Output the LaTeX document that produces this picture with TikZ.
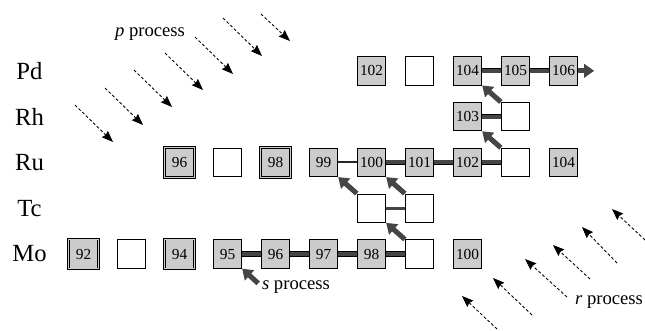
\documentclass[tikz,border=0pt]{standalone}
\usepackage{fontspec}
\setmainfont{Liberation Serif}
\usetikzlibrary{positioning, arrows.meta}
\definecolor{boxgray}{gray}{0.8}
\definecolor{bargray}{gray}{0.27}
\tikzset{
    nuc/.style={
        draw,
        fill=boxgray,
        minimum size=21.4pt,
        inner sep=0pt,
        line width=0.6pt,
        font=\fontsize{11.5}{13}\selectfont,
    },
    gap/.style={nuc, fill=white},
    pnuc/.style={nuc, minimum size=22.3pt, line width=0.55pt, double=boxgray, double distance=0.8pt},
    elem/.style={font=\fontsize{18.5}{21}\selectfont},
    proc/.style={font=\fontsize{14}{16}\selectfont},
    ncap/.style={draw=black, line width=0.5pt, double=bargray, double distance=3pt},
    thinlink/.style={draw=black!85, line width=1.4pt},
    tclink/.style={draw=bargray, line width=2.3pt},
    decay/.style={draw=bargray, line width=3.8pt, -{Triangle[length=7.5pt,width=10pt]}},
    flux/.style={draw=black, line width=0.65pt, dash pattern=on 2.2pt off 1.6pt,
        -{Stealth[length=8.5pt,width=6.5pt,inset=1pt]}},
}

\begin{document}
\begin{tikzpicture}[x=0.75pt, y=-0.75pt, node distance=34.35pt and 36pt, on grid]
        \useasboundingbox (0,0) rectangle (645,330);
        % Mo row
        \node[pnuc] (mo92) at (83.5,254) {92};
        \node[gap, right=of mo92] (mo93) {};
        \node[pnuc, right=of mo93] (mo94) {94};
        \node[nuc, right=of mo94] (mo95) {95};
        \node[nuc, right=of mo95] (mo96) {96};
        \node[nuc, right=of mo96] (mo97) {97};
        \node[nuc, right=of mo97] (mo98) {98};
        \node[gap, right=of mo98] (mo99) {};
        \node[nuc, right=of mo99] (mo100) {100};
        % Tc row
        \node[gap, above=of mo98] (tc99) {};
        \node[gap, right=of tc99] (tc100) {};
        % Ru row
        \node[nuc, above=of tc99] (ru100) {100};
        \node[nuc, left=of ru100] (ru99) {99};
        \node[pnuc, left=of ru99] (ru98) {98};
        \node[gap, left=of ru98] (ru97) {};
        \node[pnuc, left=of ru97] (ru96) {96};
        \node[nuc, right=of ru100] (ru101) {101};
        \node[nuc, right=of ru101] (ru102) {102};
        \node[gap, right=of ru102] (ru103) {};
        \node[nuc, right=of ru103] (ru104) {104};
        % Rh row
        \node[nuc, above=of ru102] (rh103) {103};
        \node[gap, right=of rh103] (rh104) {};
        % Pd row
        \node[nuc, above=of rh103] (pd104) {104};
        \node[gap, left=of pd104] (pd103) {};
        \node[nuc, left=of pd103] (pd102) {102};
        \node[nuc, right=of pd104] (pd105) {105};
        \node[nuc, right=of pd105] (pd106) {106};
        \coordinate[right=12pt of pd106.east] (pdout);
        % element names
        \node[elem, left=40.5pt of mo92] (elmo) {Mo};
        \node[elem, above=of elmo] (eltc) {Tc};
        \node[elem, above=of eltc] (elru) {Ru};
        \node[elem, above=of elru] (elrh) {Rh};
        \node[elem, above=of elrh] (elpd) {Pd};
        % s path
        \draw[ncap] (mo95.east) to (mo96.west);
        \draw[ncap] (mo96.east) to (mo97.west);
        \draw[ncap] (mo97.east) to (mo98.west);
        \draw[ncap] (mo98.east) to (mo99.west);
        \draw[tclink] (tc99.east) to (tc100.west);
        \draw[thinlink] (ru99.east) to (ru100.west);
        \draw[ncap] (ru100.east) to (ru101.west);
        \draw[ncap] (ru101.east) to (ru102.west);
        \draw[ncap] (ru102.east) to (ru103.west);
        \draw[ncap] (rh103.east) to (rh104.west);
        \draw[ncap] (pd104.east) to (pd105.west);
        \draw[ncap] (pd105.east) to (pd106.west);
        \draw[decay, line width=3.6pt] (pd106.east) to (pdout);
        \draw[decay] (mo99.north west) to (tc99.south east);
        \draw[decay] (tc99.north west) to (ru99.south east);
        \draw[decay] (tc100.north west) to (ru100.south east);
        \draw[decay] (ru103.north west) to (rh103.south east);
        \draw[decay] (rh104.north west) to (pd104.south east);
        \coordinate (sin) at ([shift={(12pt,-11pt)}]mo95.south east);
        \draw[decay] (sin) to (mo95.south east);
        % process labels
        \node[proc] (slab) at (296,287) {\textit{s} process};
        \node[proc] (plab) at (150,34) {\textit{p} process};
        \node[proc] (rlab) at (609,302) {\textit{r} process};
        % p flux
        \draw[flux] (75,105) -- ++(38,37);
        \draw[flux] (105,88) -- ++(38,37);
        \draw[flux] (134,70) -- ++(38,37);
        \draw[flux] (165,53) -- ++(38,37);
        \draw[flux] (195,37) -- ++(38,37);
        \draw[flux] (223,18) -- ++(39,38);
        \draw[flux] (261,14) -- ++(29,27);
        % r flux
        \draw[flux] (497,329) -- ++(-35,-33);
        \draw[flux] (532,315) -- ++(-39,-37);
        \draw[flux] (567,297) -- ++(-42,-38);
        \draw[flux] (590,279) -- ++(-37,-34);
        \draw[flux] (617,263) -- ++(-35,-36);
        \draw[flux] (645,240) -- ++(-33,-31);
\end{tikzpicture}
\end{document}
